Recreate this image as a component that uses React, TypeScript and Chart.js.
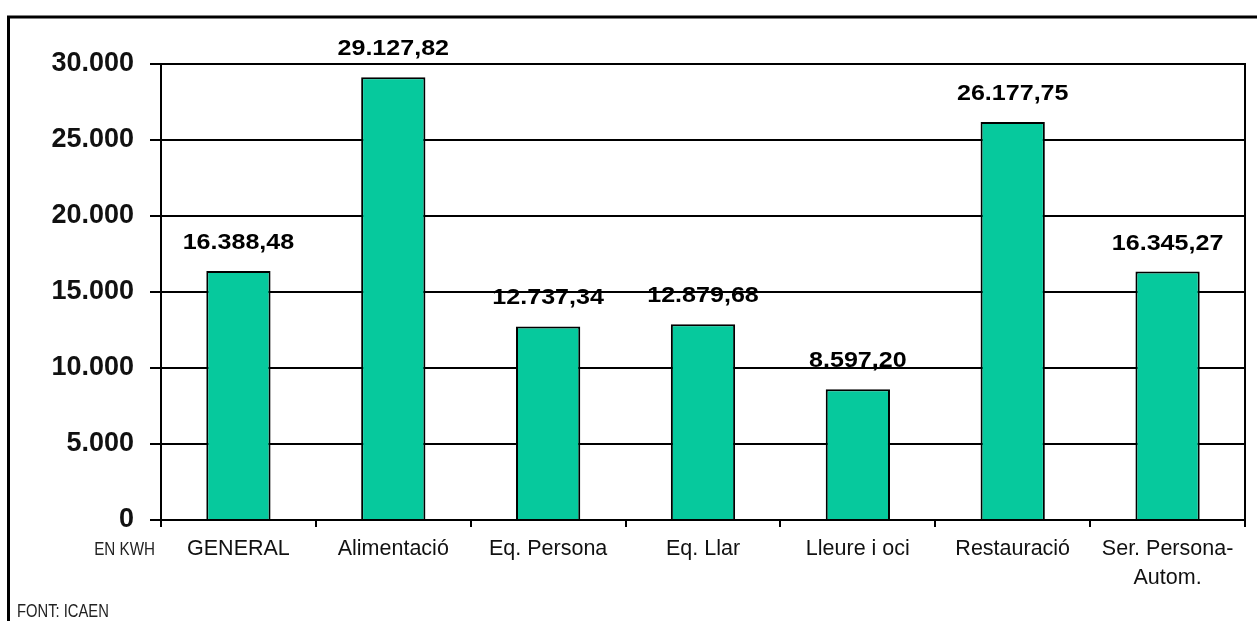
import React, { useEffect, useRef } from "react";
import { Chart, registerables } from "chart.js";

Chart.register(...registerables);

const categories: (string | string[])[] = [
  "GENERAL",
  "Alimentació",
  "Eq. Persona",
  "Eq. Llar",
  "Lleure i oci",
  "Restauració",
  ["Ser. Persona-", "Autom."],
];
const values: number[] = [16388.48, 29127.82, 12737.34, 12879.68, 8597.2, 26177.75, 16345.27];
const yMin = 0;
const yMax = 30000;
const yStep = 5000;
const unitLabel = "EN KWH";
const sourceLabel = "FONT: ICAEN";

const BAR_COLOR = "#06C99D";

function groupThousands(intPart: string): string {
  return intPart.replace(/\B(?=(\d{3})+(?!\d))/g, ".");
}
function fmtValue(v: number): string {
  const [i, d] = v.toFixed(2).split(".");
  return groupThousands(i) + "," + d;
}
function fmtTick(v: number): string {
  return groupThousands(String(Math.round(v)));
}

function narrowText(ctx: any, text: string, x: number, y: number, align: "left" | "right", sx: number) {
  ctx.save();
  ctx.translate(x, y);
  ctx.scale(sx, 1);
  ctx.textAlign = align;
  ctx.fillText(text, 0, 0);
  ctx.restore();
}

const decorPlugin = {
  id: "decor",
  beforeDraw(chart: any) {
    const ctx = chart.ctx;
    ctx.save();
    ctx.fillStyle = "#ffffff";
    ctx.fillRect(0, 0, chart.width, chart.height);
    ctx.strokeStyle = "#000";
    ctx.lineWidth = 3;
    ctx.beginPath();
    ctx.moveTo(8.5, chart.height + 5);
    ctx.lineTo(8.5, 17);
    ctx.lineTo(chart.width + 5, 17);
    ctx.stroke();
    ctx.restore();
  },
  afterDraw(chart: any) {
    const ctx = chart.ctx;
    const { left, right, top, bottom } = chart.chartArea;
    ctx.save();
    ctx.strokeStyle = "#000";
    ctx.lineWidth = 2;
    ctx.beginPath();
    ctx.moveTo(left, top);
    ctx.lineTo(right, top);
    ctx.lineTo(right, bottom);
    ctx.stroke();
    ctx.fillStyle = "#222";
    ctx.textBaseline = "alphabetic";
    ctx.font = '19px "Liberation Sans", Arial, sans-serif';
    narrowText(ctx, unitLabel, 155, 555, "right", 0.8);
    ctx.font = '18px "Liberation Sans", Arial, sans-serif';
    narrowText(ctx, sourceLabel, 17, 617, "left", 0.82);
    ctx.restore();
  },
};

const valueLabelPlugin = {
  id: "valueLabels",
  afterDatasetsDraw(chart: any) {
    const ctx = chart.ctx;
    const meta = chart.getDatasetMeta(0);
    const data = chart.data.datasets[0].data as number[];
    ctx.save();
    ctx.fillStyle = "#000";
    ctx.font = 'bold 22px "Liberation Sans", Arial, sans-serif';
    ctx.textAlign = "center";
    ctx.textBaseline = "alphabetic";
    meta.data.forEach((el: any, i: number) => {
      ctx.save();
      ctx.translate(el.x, el.y - 22);
      ctx.scale(1.14, 1);
      ctx.fillText(fmtValue(data[i]), 0, 0);
      ctx.restore();
    });
    ctx.restore();
  },
};

export default function App() {
  const ref = useRef<HTMLCanvasElement | null>(null);
  useEffect(() => {
    if (!ref.current) return;
    const chart = new Chart(ref.current, {
      type: "bar",
      data: {
        labels: categories,
        datasets: [
          {
            data: values,
            backgroundColor: BAR_COLOR,
            borderColor: "#000",
            borderWidth: 2,
            borderSkipped: "start",
            barPercentage: 0.415,
            categoryPercentage: 1,
          },
        ],
      },
      options: {
        responsive: false,
        animation: false,
        devicePixelRatio: 1,
        layout: { padding: { left: 0, top: 64, right: 12, bottom: 21 } },
        plugins: {
          legend: { display: false },
          tooltip: { enabled: false },
        },
        scales: {
          x: {
            offset: true,
            border: { display: true, color: "#000", width: 2 },
            grid: {
              display: true,
              offset: true,
              drawOnChartArea: false,
              drawTicks: true,
              tickLength: 7,
              color: "#000",
              lineWidth: 2,
            },
            ticks: {
              color: "#111",
              padding: 8,
              maxRotation: 0,
              autoSkip: false,
              font: { family: '"Liberation Sans", Arial, sans-serif', size: 21.5, lineHeight: 1.35 },
            },
            afterFit(scale: any) {
              scale.height = 80;
            },
          },
          y: {
            min: yMin,
            max: yMax,
            border: { display: true, color: "#000", width: 2 },
            grid: {
              color: "#000",
              lineWidth: 2,
              tickLength: 11,
              drawTicks: true,
            },
            ticks: {
              stepSize: yStep,
              color: "#111",
              padding: 16,
              font: { family: '"Liberation Sans", Arial, sans-serif', size: 27, weight: "bold" },
              callback: (v: any) => fmtTick(Number(v)),
            },
            afterFit(scale: any) {
              scale.width = 161;
            },
          },
        },
      },
      plugins: [decorPlugin, valueLabelPlugin],
    });
    return () => chart.destroy();
  }, []);
  return (
    <div style={{ position: "fixed", left: 0, top: 0, width: 1257, height: 621, background: "#fff" }}>
      <canvas ref={ref} width={1257} height={621} style={{ display: "block", width: 1257, height: 621 }} />
    </div>
  );
}
